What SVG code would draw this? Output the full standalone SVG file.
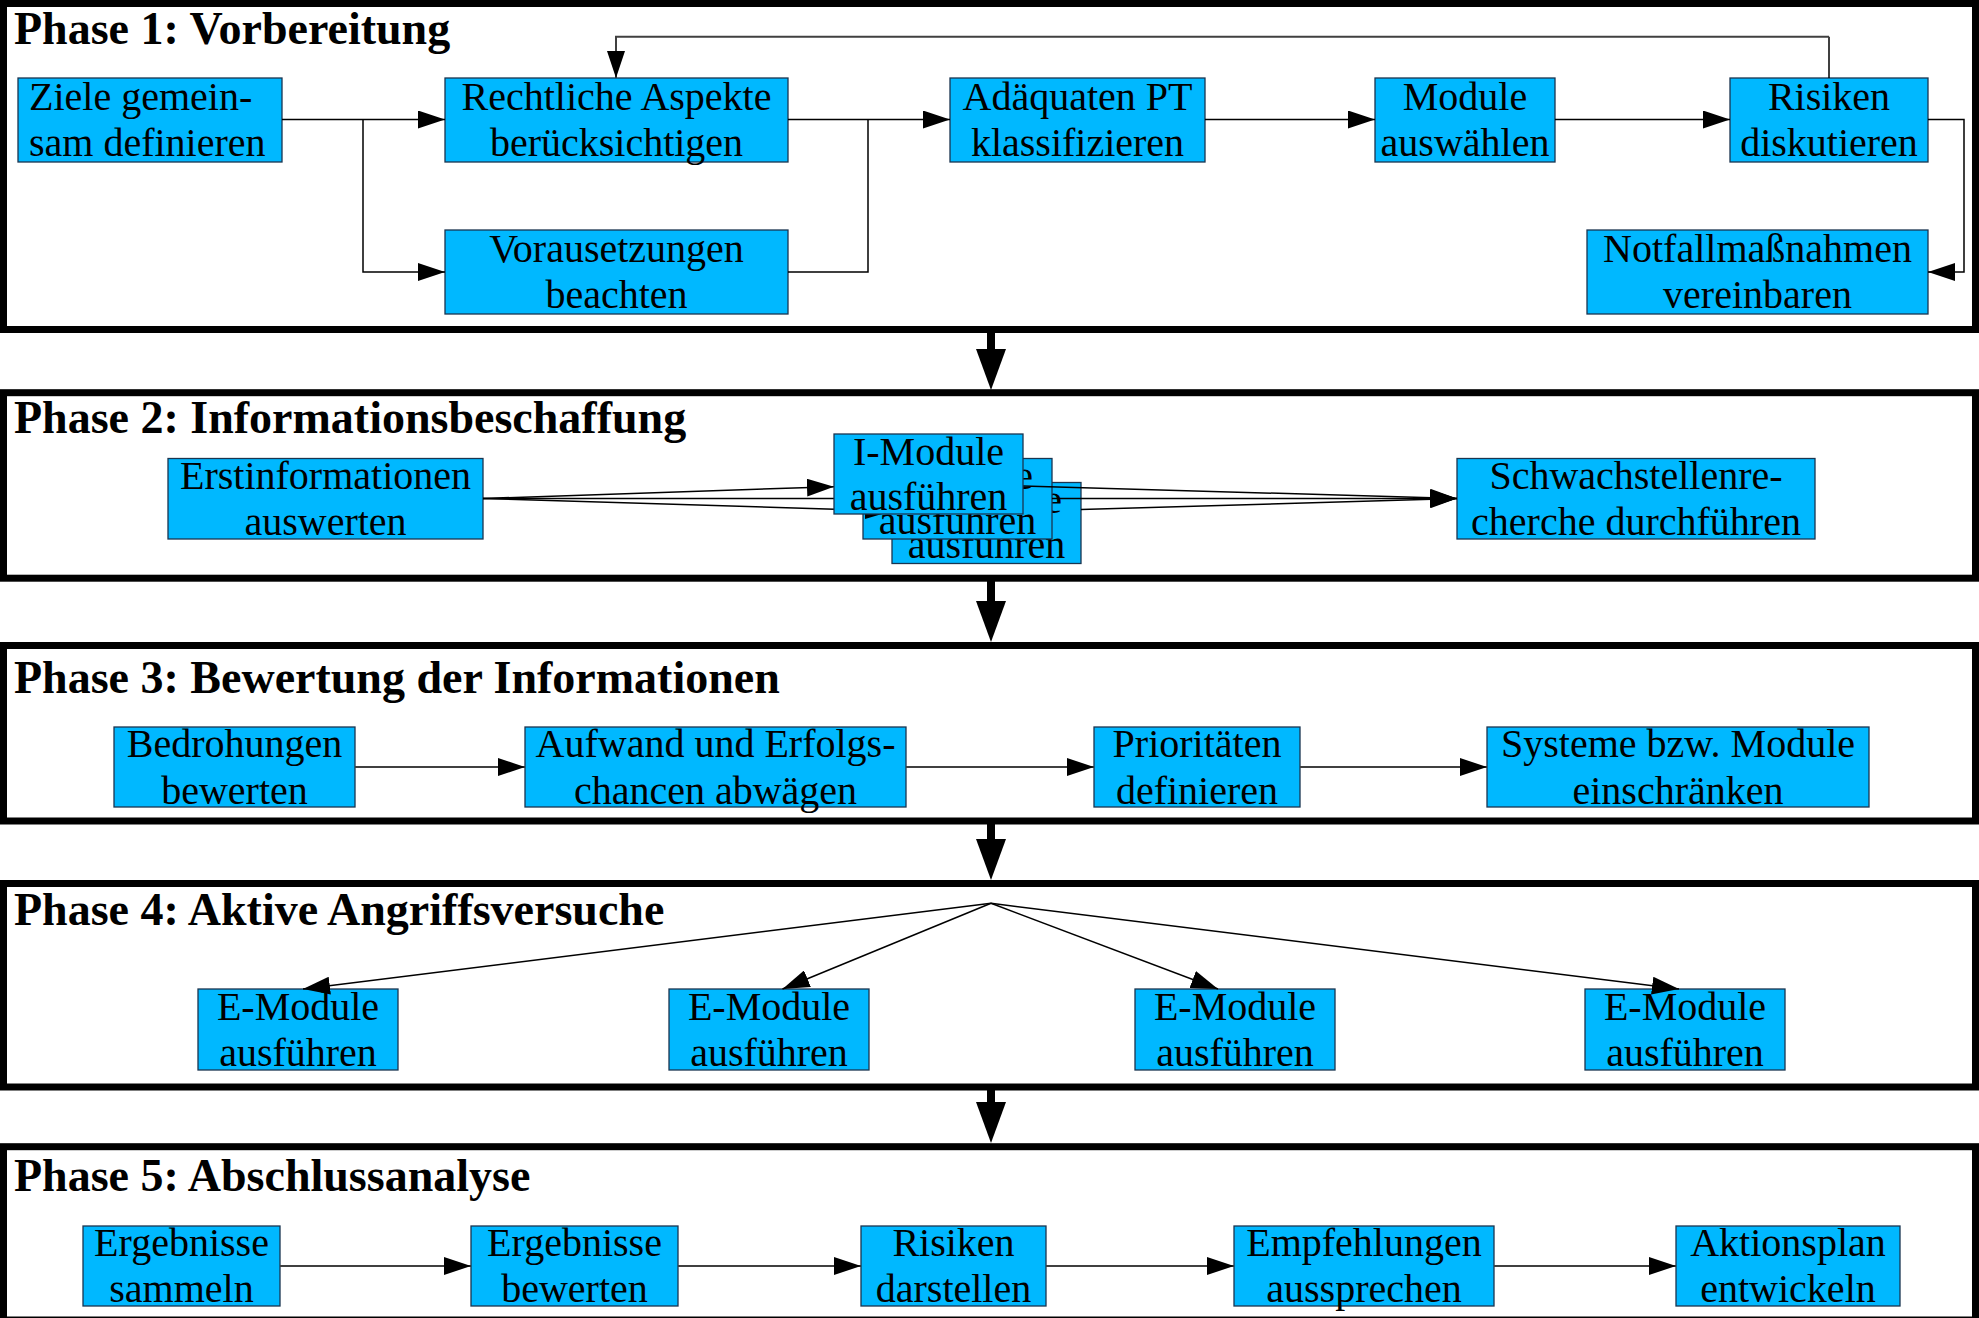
<svg xmlns="http://www.w3.org/2000/svg" width="1979" height="1318" viewBox="0 0 1979 1318">
<style>
.phase{fill:none;stroke:#000;stroke-width:7}
.title{font-family:"Liberation Serif","Times New Roman",serif;font-weight:bold;font-size:46px;fill:#000}
.node rect{fill:#00b8ff;stroke:#1a3550;stroke-width:1.3}
.node text{font-family:"Liberation Serif","Times New Roman",serif;font-size:40px;text-anchor:middle;fill:#000}
.c{fill:none;stroke:#000;stroke-width:1.5;marker-end:url(#ah)}
.cg{fill:none;stroke:#404040;stroke-width:2;marker-end:url(#ah)}
.big{stroke:#000;stroke-width:8}
</style>
<defs>
<marker id="ah" markerUnits="userSpaceOnUse" markerWidth="28" markerHeight="18" refX="27" refY="9" orient="auto">
<path d="M0,0 L27,9 L0,18 Z" fill="#000"/>
</marker>
</defs>

<g id="phases">
<rect class="phase" x="3.5" y="3.5" width="1972" height="326"/>
<rect class="phase" x="3.5" y="392.7" width="1972" height="185.5"/>
<rect class="phase" x="3.5" y="645.5" width="1972" height="175.5"/>
<rect class="phase" x="3.5" y="883.5" width="1972" height="203.5"/>
<rect class="phase" x="3.5" y="1146.7" width="1972" height="173.3"/>
<text class="title" x="14" y="44">Phase 1: Vorbereitung</text>
<text class="title" x="14" y="433">Phase 2: Informationsbeschaffung</text>
<text class="title" x="14" y="693">Phase 3: Bewertung der Informationen</text>
<text class="title" x="14" y="925">Phase 4: Aktive Angriffsversuche</text>
<text class="title" x="14" y="1191">Phase 5: Abschlussanalyse</text>
</g>

<g id="phase-arrows">
<line class="big" x1="991" y1="333" x2="991" y2="351"/>
<polygon points="976,349 1006,349 991,390"/>
<line class="big" x1="991" y1="581" x2="991" y2="603"/>
<polygon points="976,601 1006,601 991,642"/>
<line class="big" x1="991" y1="824" x2="991" y2="841"/>
<polygon points="976,839 1006,839 991,880"/>
<line class="big" x1="991" y1="1090" x2="991" y2="1104"/>
<polygon points="976,1102 1006,1102 991,1143"/>
</g>

<g id="nodes">
<g id="n-ziele" class="node"><rect x="18" y="78" width="264" height="84"/><text x="29" y="109.5" style="text-anchor:start">Ziele gemein-</text><text x="29" y="155.5" style="text-anchor:start">sam definieren</text></g>
<g id="n-recht" class="node"><rect x="445" y="78" width="343" height="84"/><text x="616.5" y="109.5">Rechtliche Aspekte</text><text x="616.5" y="155.5">berücksichtigen</text></g>
<g id="n-voraus" class="node"><rect x="445" y="230" width="343" height="84"/><text x="616.5" y="261.5">Vorausetzungen</text><text x="616.5" y="307.5">beachten</text></g>
<g id="n-adaeq" class="node"><rect x="950" y="78" width="255" height="84"/><text x="1077.5" y="109.5">Adäquaten PT</text><text x="1077.5" y="155.5">klassifizieren</text></g>
<g id="n-module" class="node"><rect x="1375" y="78" width="180" height="84"/><text x="1465" y="109.5">Module</text><text x="1465" y="155.5">auswählen</text></g>
<g id="n-risiken" class="node"><rect x="1730" y="78" width="198" height="84"/><text x="1829" y="109.5">Risiken</text><text x="1829" y="155.5">diskutieren</text></g>
<g id="n-notfall" class="node"><rect x="1587" y="230" width="341" height="84"/><text x="1757.5" y="261.5">Notfallmaßnahmen</text><text x="1757.5" y="307.5">vereinbaren</text></g>

<g id="n-erst" class="node"><rect x="168" y="458.5" width="315" height="80.5"/><text x="325.5" y="488.5">Erstinformationen</text><text x="325.5" y="535">auswerten</text></g>
<g id="n-imod3" class="node"><rect x="892" y="482.5" width="189" height="81"/><text x="986.5" y="513">I-Module</text><text x="986.5" y="558">ausführen</text></g>
<g id="n-imod2" class="node"><rect x="863" y="458.5" width="189" height="80.5"/><text x="957.5" y="489">I-Module</text><text x="957.5" y="534">ausführen</text></g>
<g id="n-schwach" class="node"><rect x="1457" y="458.5" width="358" height="80.5"/><text x="1636" y="489">Schwachstellenre-</text><text x="1636" y="535">cherche durchführen</text></g>

<g id="n-bedroh" class="node"><rect x="114" y="727" width="241" height="80"/><text x="234.5" y="757">Bedrohungen</text><text x="234.5" y="803.5">bewerten</text></g>
<g id="n-aufwand" class="node"><rect x="525" y="727" width="381" height="80"/><text x="715.5" y="757">Aufwand und Erfolgs-</text><text x="715.5" y="803.5">chancen abwägen</text></g>
<g id="n-prio" class="node"><rect x="1094" y="727" width="206" height="80"/><text x="1197" y="757">Prioritäten</text><text x="1197" y="803.5">definieren</text></g>
<g id="n-systeme" class="node"><rect x="1487" y="727" width="382" height="80"/><text x="1678" y="757">Systeme bzw. Module</text><text x="1678" y="803.5">einschränken</text></g>

<g id="n-emod1" class="node"><rect x="198" y="989" width="200" height="81"/><text x="298" y="1020">E-Module</text><text x="298" y="1066">ausführen</text></g>
<g id="n-emod2" class="node"><rect x="669" y="989" width="200" height="81"/><text x="769" y="1020">E-Module</text><text x="769" y="1066">ausführen</text></g>
<g id="n-emod3" class="node"><rect x="1135" y="989" width="200" height="81"/><text x="1235" y="1020">E-Module</text><text x="1235" y="1066">ausführen</text></g>
<g id="n-emod4" class="node"><rect x="1585" y="989" width="200" height="81"/><text x="1685" y="1020">E-Module</text><text x="1685" y="1066">ausführen</text></g>

<g id="n-erg1" class="node"><rect x="83" y="1226" width="197" height="80"/><text x="181.5" y="1255.5">Ergebnisse</text><text x="181.5" y="1302">sammeln</text></g>
<g id="n-erg2" class="node"><rect x="471" y="1226" width="207" height="80"/><text x="574.5" y="1255.5">Ergebnisse</text><text x="574.5" y="1302">bewerten</text></g>
<g id="n-risdar" class="node"><rect x="861" y="1226" width="185" height="80"/><text x="953.5" y="1255.5">Risiken</text><text x="953.5" y="1302">darstellen</text></g>
<g id="n-empf" class="node"><rect x="1234" y="1226" width="260" height="80"/><text x="1364" y="1255.5">Empfehlungen</text><text x="1364" y="1302">aussprechen</text></g>
<g id="n-aktion" class="node"><rect x="1676" y="1226" width="224" height="80"/><text x="1788" y="1255.5">Aktionsplan</text><text x="1788" y="1302">entwickeln</text></g>
</g>

<g id="connectors">
<path class="c" d="M282,119.5 H445"/>
<path class="c" d="M363,119.5 V272 H445"/>
<path class="c" d="M788,119.5 H950"/>
<path class="c" d="M788,272 H868 V119.5" style="marker-end:none"/>
<path class="c" d="M1205,119.5 H1375"/>
<path class="c" d="M1555,119.5 H1730"/>
<path class="c" d="M1928,119.5 H1964 V272 H1928"/>
<path class="c" d="M1829,78 V36.7" style="marker-end:none"/>
<path class="cg" d="M1829,36.7 H616 V78"/>

<path class="c" d="M483,498.5 L834,486.7"/>
<path class="c" d="M483,498.5 L863,498.5"/>
<path class="c" d="M483,498.5 L892,511"/>
<path class="c" d="M1023,486 L1457,498.5"/>
<path class="c" d="M1052,498.5 L1457,498.5"/>
<path class="c" d="M1081,509.5 L1457,498.5"/>

<path class="cg" d="M355,767 H525"/>
<path class="cg" d="M906,767 H1094"/>
<path class="cg" d="M1300,767 H1487"/>

<path class="c" d="M991,903.3 L303,989"/>
<path class="c" d="M991,903.3 L782.5,989"/>
<path class="c" d="M991,903.3 L1218,989"/>
<path class="c" d="M991,903.3 L1679,989"/>

<path class="cg" d="M280,1266 H471"/>
<path class="cg" d="M678,1266 H861"/>
<path class="cg" d="M1046,1266 H1234"/>
<path class="cg" d="M1494,1266 H1676"/>
</g>

<g id="n-imod1" class="node"><rect x="834" y="434" width="189" height="80"/><text x="928.5" y="465">I-Module</text><text x="928.5" y="510">ausführen</text></g>
</svg>
